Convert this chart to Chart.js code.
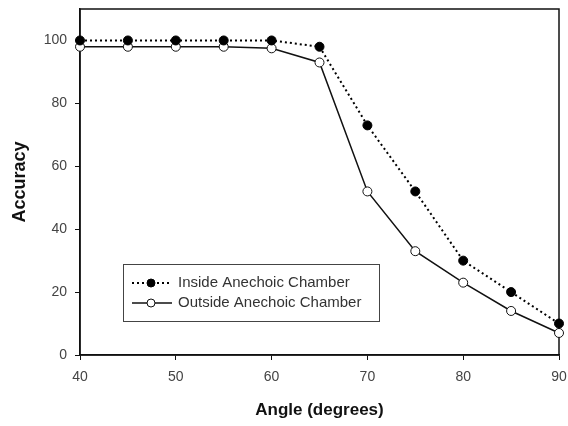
<!DOCTYPE html>
<html><head><meta charset="utf-8">
<script src="https://cdn.jsdelivr.net/npm/chart.js@4"></script>
<style>html,body{margin:0;padding:0;background:#fff}#wrap{width:568px;height:426px}</style>
</head><body><div id="wrap"><canvas id="c" width="568" height="426"></canvas></div>
<script>
const angles = [40, 45, 50, 55, 60, 65, 70, 75, 80, 85, 90];
const insideAcc = [100, 100, 100, 100, 100, 98, 73, 52, 30, 20, 10];
const outsideAcc = [98, 98, 98, 98, 97.5, 93, 52, 33, 23, 14, 7];
const seriesNames = ["Inside Anechoic Chamber", "Outside Anechoic Chamber"];

const pts = (ys) => angles.map((a, i) => ({x: a, y: ys[i]}));

const framePlugin = {
  id: 'frame',
  beforeDatasetsDraw(chart) {
    const {ctx, chartArea: a} = chart;
    ctx.save();
    ctx.strokeStyle = '#111';
    ctx.lineWidth = 1.5;
    ctx.strokeRect(a.left, a.top, a.right - a.left, a.bottom - a.top);
    ctx.restore();
  },
  afterDraw(chart) {
    const {ctx} = chart;
    ctx.save();
    // legend box
    const bx = 123, by = 264, bw = 256, bh = 57;
    ctx.fillStyle = '#fff';
    ctx.fillRect(bx, by, bw, bh);
    ctx.lineWidth = 1;
    ctx.strokeStyle = '#444';
    ctx.strokeRect(bx + 0.5, by + 0.5, bw, bh);
    chart.data.datasets.forEach((ds, i) => {
      const y = by + 19 + i * 20;
      ctx.strokeStyle = ds.borderColor;
      ctx.lineWidth = ds.borderWidth;
      ctx.setLineDash(ds.borderDash || []);
      ctx.beginPath(); ctx.moveTo(132, y); ctx.lineTo(172, y); ctx.stroke();
      ctx.setLineDash([]);
      ctx.beginPath(); ctx.arc(151, y, 4, 0, Math.PI * 2);
      ctx.fillStyle = ds.pointBackgroundColor; ctx.fill();
      ctx.lineWidth = 1; ctx.strokeStyle = ds.pointBorderColor; ctx.stroke();
      ctx.fillStyle = '#333';
      ctx.font = '15px "Liberation Sans", Arial, sans-serif';
      ctx.textBaseline = 'middle';
      ctx.fillText(ds.label, 178, y);
    });
    ctx.restore();
  }
};

const tickFont = {size: 14, family: '"Liberation Sans", Arial'};

new Chart(document.getElementById('c'), {
  type: 'line',
  data: {
    datasets: [
      {
        label: seriesNames[0], data: pts(insideAcc), clip: 8,
        borderColor: '#000', borderWidth: 2, borderDash: [2, 3],
        pointBackgroundColor: '#000', pointBorderColor: '#000',
        pointRadius: 4.5, pointBorderWidth: 1, fill: false, tension: 0
      },
      {
        label: seriesNames[1], data: pts(outsideAcc), clip: 8,
        borderColor: '#111', borderWidth: 1.5,
        pointBackgroundColor: '#fff', pointBorderColor: '#111',
        pointRadius: 4.5, pointBorderWidth: 1, fill: false, tension: 0
      }
    ]
  },
  options: {
    responsive: false, animation: false,
    layout: {padding: {top: 9, right: 9, left: 0, bottom: 0}},
    plugins: {legend: {display: false}, tooltip: {enabled: false}},
    scales: {
      x: {
        type: 'linear', min: 40, max: 90,
        ticks: {stepSize: 10, color: '#444', font: tickFont, padding: 9},
        grid: {drawOnChartArea: false, color: '#111', tickLength: 5, tickWidth: 1},
        border: {color: '#111', width: 1.5},
        title: {display: true, text: 'Angle (degrees)', color: '#111',
          font: {size: 17, weight: 'bold', family: '"Liberation Sans", Arial'}, padding: {top: 4, bottom: 5}},
        afterFit(s) { s.height = 71; s.paddingLeft = 0; s.paddingRight = 0; }
      },
      y: {
        min: 0, max: 110,
        ticks: {stepSize: 20, color: '#444', font: tickFont, padding: 8,
          callback: (v) => (v <= 100 ? v : '')},
        grid: {drawOnChartArea: false, color: (c) => (c.tick && c.tick.value > 100 ? 'rgba(0,0,0,0)' : '#111'), tickLength: 5, tickWidth: 1},
        border: {color: '#111', width: 1.5},
        title: {display: true, text: 'Accuracy', color: '#111',
          font: {size: 18, weight: 'bold', family: '"Liberation Sans", Arial'}, padding: {top: 9, bottom: 4}},
        afterFit(s) { s.width = 80; s.paddingTop = 0; s.paddingBottom = 0; }
      }
    }
  },
  plugins: [framePlugin]
});
</script></body></html>
